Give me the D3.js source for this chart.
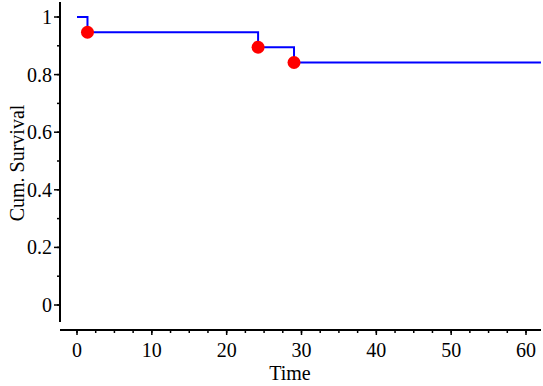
<!DOCTYPE html>
<html>
<head>
<meta charset="utf-8">
<script src="https://cdn.jsdelivr.net/npm/d3@7"></script>
<style>
body { margin: 0; background: #fff; }
text { font-family: "Liberation Serif", "Times New Roman", serif; fill: #000; }
</style>
</head>
<body>
<div id="chart"></div>
<script>
// step points of the survival curve (time, cum. survival)
var stepTimes = [0, 1.4, 24.2, 29.0, 62];
var stepSurvival = [1, 0.947, 0.895, 0.842, 0.842];
// markers at the drops
var markTimes = [1.4, 24.2, 29.0];
var markSurvival = [0.947, 0.895, 0.842];
var xTicks = [0, 10, 20, 30, 40, 50, 60];
var yTicks = [0, 0.2, 0.4, 0.6, 0.8, 1];
var yTickLabels = ["0", "0.2", "0.4", "0.6", "0.8", "1"];

var width = 543, height = 386;
var svg = d3.select("#chart").append("svg")
    .attr("width", width)
    .attr("height", height);

var x = d3.scaleLinear().domain([0, 60]).range([77, 526]);
var y = d3.scaleLinear().domain([0, 1]).range([305, 17]);

// y axis
svg.append("line")
    .attr("x1", 60).attr("x2", 60)
    .attr("y1", 2).attr("y2", 322)
    .attr("stroke", "#000").attr("stroke-width", 2);
svg.selectAll(".ymin")
    .data(d3.range(0, 1.05, 0.1))
    .enter().append("line")
    .attr("x1", 57).attr("x2", 60)
    .attr("y1", function(d) { return y(d); })
    .attr("y2", function(d) { return y(d); })
    .attr("stroke", "#000").attr("stroke-width", 1.5);
svg.selectAll(".ymaj")
    .data(yTicks)
    .enter().append("line")
    .attr("x1", 54).attr("x2", 60)
    .attr("y1", function(d) { return y(d); })
    .attr("y2", function(d) { return y(d); })
    .attr("stroke", "#000").attr("stroke-width", 1.5);
svg.selectAll(".ylab")
    .data(yTicks)
    .enter().append("text")
    .attr("x", 52)
    .attr("y", function(d) { return y(d) + 7; })
    .attr("text-anchor", "end")
    .style("font-size", "20px")
    .text(function(d, i) { return yTickLabels[i]; });

// x axis
svg.append("line")
    .attr("x1", 60).attr("x2", 541)
    .attr("y1", 330).attr("y2", 330)
    .attr("stroke", "#000").attr("stroke-width", 2);
svg.selectAll(".xmin")
    .data(d3.range(0, 62, 2.5))
    .enter().append("line")
    .attr("x1", function(d) { return x(d); })
    .attr("x2", function(d) { return x(d); })
    .attr("y1", 330).attr("y2", 333)
    .attr("stroke", "#000").attr("stroke-width", 1.5);
svg.selectAll(".xmaj")
    .data(xTicks)
    .enter().append("line")
    .attr("x1", function(d) { return x(d); })
    .attr("x2", function(d) { return x(d); })
    .attr("y1", 330).attr("y2", 335)
    .attr("stroke", "#000").attr("stroke-width", 1.5);
svg.selectAll(".xlab")
    .data(xTicks)
    .enter().append("text")
    .attr("x", function(d) { return x(d); })
    .attr("y", 357)
    .attr("text-anchor", "middle")
    .style("font-size", "20px")
    .text(function(d) { return d; });

// axis titles
svg.append("text")
    .attr("x", 290).attr("y", 380)
    .attr("text-anchor", "middle")
    .style("font-size", "20px")
    .text("Time");
svg.append("text")
    .attr("transform", "translate(24,163) rotate(-90)")
    .attr("text-anchor", "middle")
    .style("font-size", "20px")
    .text("Cum. Survival");

// survival curve
var pts = stepTimes.map(function(t, i) { return [t, stepSurvival[i]]; });
var line = d3.line()
    .x(function(d) { return x(d[0]); })
    .y(function(d) { return y(d[1]); })
    .curve(d3.curveStepAfter);
svg.append("path")
    .datum(pts)
    .attr("d", line)
    .attr("fill", "none")
    .attr("stroke", "#0000ff")
    .attr("stroke-width", 2);

svg.selectAll(".mark")
    .data(markTimes)
    .enter().append("circle")
    .attr("cx", function(d) { return x(d); })
    .attr("cy", function(d, i) { return y(markSurvival[i]); })
    .attr("r", 6.5)
    .attr("fill", "#ff0000");
</script>
</body>
</html>
